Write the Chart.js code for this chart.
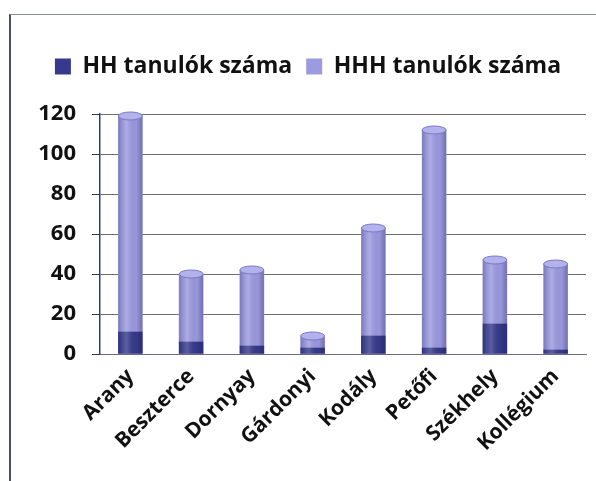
<!DOCTYPE html>
<html>
<head>
<meta charset="utf-8">
<script src="https://cdn.jsdelivr.net/npm/chart.js@4.4.0/dist/chart.umd.min.js"></script>
<style>
  body { margin: 0; background: #fff; }
  #wrap { position: relative; width: 596px; height: 481px; }
  #frame {
    position: absolute; left: 9px; top: 14px; right: 0; bottom: 0;
    border-top: 1px solid #8a8f9a; border-left: 2px solid #4a4e66;
  }
  #chart { position: absolute; left: 0; top: 0; }
</style>
</head>
<body>
<div id="wrap">
  <div id="frame"></div>
  <canvas id="chart" width="596" height="481"></canvas>
</div>
<script>
const schools = ["Arany", "Beszterce", "Dornyay", "Gárdonyi", "Kodály", "Petőfi", "Székhely", "Kollégium"];
const hhCounts = [11, 6, 4, 3, 9, 3, 15, 2];
const hhhCounts = [108, 34, 38, 6, 54, 109, 32, 43];
const yTicks = [0, 20, 40, 60, 80, 100, 120];

const chartCanvas = document.getElementById("chart");
const fontName = "'Open Sans', 'DejaVu Sans', sans-serif";

// shading + top cap so the bars look a bit like the cylinders
const cylinderLook = {
  id: 'cylinderLook',
  afterDatasetsDraw(chart) {
    const ctx = chart.ctx;
    chart.data.datasets.forEach((ds, di) => {
      const meta = chart.getDatasetMeta(di);
      meta.data.forEach(bar => {
        const left = bar.x - bar.width / 2;
        const top = Math.min(bar.y, bar.base);
        const h = Math.abs(bar.base - bar.y);
        const g = ctx.createLinearGradient(left, 0, left + bar.width, 0);
        g.addColorStop(0, 'rgba(20,20,80,0.25)');
        g.addColorStop(0.35, 'rgba(255,255,255,0.18)');
        g.addColorStop(0.75, 'rgba(0,0,0,0.02)');
        g.addColorStop(1, 'rgba(20,20,80,0.3)');
        ctx.save();
        ctx.fillStyle = g;
        ctx.fillRect(left, top, bar.width, h);
        if (di === chart.data.datasets.length - 1) {
          ctx.beginPath();
          ctx.ellipse(bar.x, bar.y, bar.width / 2, 4, 0, 0, Math.PI * 2);
          ctx.fillStyle = '#b3b2ec';
          ctx.fill();
          ctx.strokeStyle = '#7a78c4';
          ctx.lineWidth = 1;
          ctx.stroke();
        }
        ctx.restore();
      });
    });
  }
};

let schoolChart = new Chart(chartCanvas, {
  type: 'bar',
  data: {
    labels: schools,
    datasets: [{
      label: 'HH tanulók száma',
      data: hhCounts,
      backgroundColor: '#363a8c',
      barThickness: 24
    }, {
      label: 'HHH tanulók száma',
      data: hhhCounts,
      backgroundColor: '#9c9ae0',
      barThickness: 24
    }]
  },
  options: {
    responsive: false,
    animation: false,
    layout: {
      padding: { left: 30, right: 10, top: 41, bottom: 8 }
    },
    scales: {
      x: {
        stacked: true,
        grid: { display: false },
        border: { color: '#6a6c8a' },
        ticks: {
          color: '#111',
          font: { family: fontName, size: 21, weight: 'bold' },
          minRotation: 45,
          maxRotation: 45,
          padding: 2
        },
        afterFit: scale => { scale.height = 119; }
      },
      y: {
        stacked: true,
        min: 0,
        max: 120,
        afterBuildTicks: scale => { scale.ticks = yTicks.map(v => ({ value: v })); },
        grid: { color: '#6e6e6e', tickLength: 8, tickColor: '#33386e' },
        border: { color: '#33386e', width: 1.5 },
        ticks: {
          color: '#111',
          font: { family: fontName, size: 22, weight: 'bold' },
          padding: 16
        },
        afterFit: scale => { scale.width = 70; }
      }
    },
    plugins: {
      legend: {
        position: 'top',
        labels: {
          color: '#111',
          font: { family: fontName, size: 23, weight: 'bold' },
          boxWidth: 16,
          boxHeight: 16,
          padding: 14
        }
      },
      // empty subtitle used as a gap between the legend and the plot
      subtitle: {
        display: true,
        text: ' ',
        weight: 500,
        font: { size: 10, lineHeight: 1 },
        padding: { top: 16, bottom: 0 }
      },
      tooltip: { enabled: false }
    }
  },
  plugins: [cylinderLook]
});
</script>
</body>
</html>
